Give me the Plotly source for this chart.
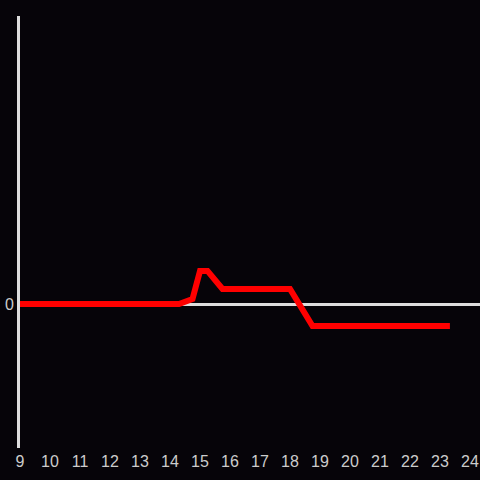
import plotly.graph_objects as go

# hour of day and value at each vertex of the line
hours = [9, 14.3, 14.75, 15, 15.25, 15.75, 18, 18.75, 23.33]
values = [0, 0, 0.035, 0.23, 0.23, 0.104, 0.104, -0.153, -0.153]
tick_hours = list(range(9, 25))

fig = go.Figure()
fig.add_trace(go.Scatter(
    x=hours,
    y=values,
    mode='lines',
    line=dict(color='#ff0000', width=6),
    hoverinfo='skip'
))

fig.update_layout(
    width=480,
    height=480,
    paper_bgcolor='#060409',
    plot_bgcolor='#060409',
    margin=dict(l=20, r=0, t=16, b=32),
    showlegend=False,
    font=dict(family='Liberation Sans, Arial, sans-serif', size=16, color='#cccccc'),
    xaxis=dict(
        range=[9, 24.333],
        tickvals=tick_hours,
        ticktext=[str(h) for h in tick_hours],
        showgrid=False,
        zeroline=False,
        showline=False,
        ticks='',
        ticklabelstandoff=2
    ),
    yaxis=dict(
        range=[-1, 2],
        tickvals=[0],
        showgrid=False,
        zeroline=True,
        zerolinecolor='#dddddd',
        zerolinewidth=3,
        showline=True,
        linecolor='#dddddd',
        linewidth=3,
        ticks=''
    )
)

# drop the page's default body margin so the figure fills the window
fig.write_html(
    "out.html",
    config={'displayModeBar': False},
    post_script="document.body.style.margin='0';document.body.style.background='#060409';"
)
